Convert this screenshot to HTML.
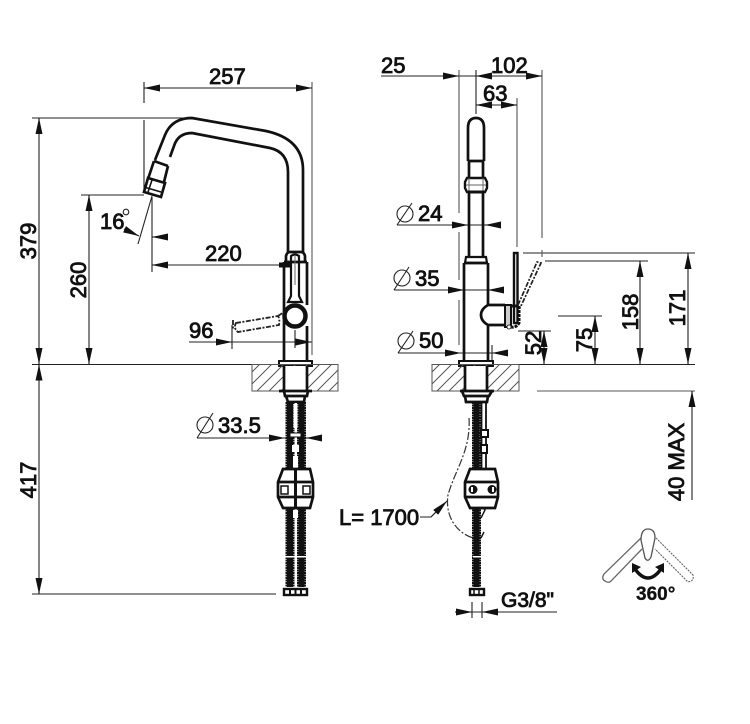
<!DOCTYPE html>
<html><head><meta charset="utf-8"><style>
html,body{margin:0;padding:0;background:#fff}
svg{display:block}
text{font-family:"Liberation Sans",sans-serif;font-size:22px;fill:#111;stroke:#111;stroke-width:.85}
.d{stroke:#222;stroke-width:1.100;fill:none}
.g{stroke:#555;stroke-width:1.100;fill:none}
.a{stroke:#222;stroke-width:1.100;fill:none;marker-end:url(#m)}
.t{stroke:#111;stroke-width:2.700;fill:none}
.s{stroke:#111;stroke-width:9;fill:none;stroke-dasharray:2 .5}
.i{stroke:#111;stroke-width:6;fill:none}
.c{stroke:#666;stroke-width:1;fill:none}
</style></head><body>
<svg width="750" height="724" viewBox="0 0 750 724" xmlns="http://www.w3.org/2000/svg">
<defs>
<marker id="m" markerUnits="userSpaceOnUse" markerWidth="16" markerHeight="7" refX="16" refY="3.5" orient="auto"><path d="M0 0L16 3.5L0 7Z" fill="#111"/></marker>
<pattern id="hat" width="12" height="12" patternUnits="userSpaceOnUse"><path d="M-3 15L15 -3M-3 3L3 -3M9 15L15 9" stroke="#555" stroke-width="1"/></pattern>
</defs>
<rect width="750" height="724" fill="#fff"/>

<!-- LEFT VIEW dimensions -->
<path class="d" d="M144 82V103M144 88H312M32 118H196M144 120V192M81 195H144M152 197V272M32 364.500H280M32 594H276"/>
<path class="g" d="M312 82V355"/>
<path class="a" d="M160 88H144"/><path class="a" d="M296 88H312"/>
<path class="d" d="M39 118V594M89 195V364"/>
<path class="a" d="M39 134V118"/><path class="a" d="M39 348V364"/><path class="a" d="M39 380V364.500"/><path class="a" d="M39 578V594"/>
<path class="a" d="M89 211V195"/><path class="a" d="M89 348V364"/>
<path class="d" d="M152 196L138 244"/>
<path class="a" d="M124 229L139 236"/><path class="a" d="M168 237H152"/>
<path class="d" d="M152 265H290"/><path class="a" d="M168 265H152"/><path stroke="#111" stroke-width="5" d="M279 265H291"/>
<path class="d" d="M189 342H311M232 325V349M295 330V348"/>
<path class="a" d="M216 342H232"/><path class="a" d="M297 342H311.500"/>
<path class="d" d="M197 438H322M197 438L213 413"/>
<path class="a" d="M268 438H285"/><path class="a" d="M322 438H306"/>
<circle class="d" cx="205" cy="425" r="8"/>

<!-- LEFT spout -->
<path class="t" d="M155 160L165 135Q172 118 192 118L266 131Q303 139 303 170V253"/>
<path class="t" d="M170 157L174 146Q178 133 192 133L270 148Q288 152 288 172V253"/>
<path class="t" d="M154 161L168 166M154 161L148 179M168 166L164 182M148 178L165 183L161 197L144 192Z"/>
<path stroke="#111" stroke-width="1.600" fill="none" d="M152 180L148 192M144 187L161 192"/>
<!-- LEFT body -->
<path class="t" d="M284 262V361M307 262V305M307 326V361"/>
<path class="t" d="M286 262V256Q287 252 290 252H301Q304 252 305 256V262H284M304 262H307"/>
<path stroke="#111" stroke-width="2.200" fill="none" d="M291 256Q295 253 299 256L299 296L302 302H288L291 296Z"/>
<path class="c" d="M295 255V285"/>
<circle cx="295" cy="316" r="10.500" fill="#fff" stroke="#111" stroke-width="4.500"/>
<path stroke="#222" stroke-width="1.800" stroke-dasharray="5 1.500 2 1.500" fill="none" d="M236 323L278 316Q280 319 279 325L238 332Q233 328 236 323ZM278 316L284 312M233 320V330"/>
<rect x="279" y="361" width="33" height="5" fill="#fff" stroke="#111" stroke-width="2"/>
<!-- LEFT counter -->
<path d="M252 364.500H338V391H252Z" fill="url(#hat)" stroke="#555"/>
<rect x="284" y="366" width="23" height="25" fill="#fff"/>
<path class="t" d="M284 366V391M307 366V391"/>
<path class="t" d="M279 391H312M284 391L285 396H307L308 391M286 396L288 402H304L305 396"/>
<path class="s" d="M290 402V587M301.500 402V587"/>
<path class="i" d="M290 402V587M301.500 402V587"/>
<rect x="294.500" y="403" width="2.500" height="182" fill="#fff"/>
<rect x="293.500" y="404" width="4" height="24" fill="#fff"/>
<rect x="290" y="433" width="11" height="4" fill="#fff" stroke="#111"/>
<rect x="292" y="445" width="7" height="7" fill="#fff"/>
<rect x="293" y="456" width="5" height="13" fill="#fff"/>
<rect x="293" y="510" width="5" height="8" fill="#fff"/>
<rect x="285" y="556" width="22" height="1.500" fill="#fff"/>
<path class="t" style="fill:#fff" d="M283 469H310L313 482V497L310 508H283L278 497V482Z"/>
<path class="t" d="M278 482H313M278 497H313"/>
<path stroke="#111" stroke-width="3" d="M295.500 469V508"/>
<rect x="281" y="486" width="7" height="8" fill="#fff" stroke="#111" stroke-width="1.500"/>
<rect x="303" y="486" width="7" height="8" fill="#fff" stroke="#111" stroke-width="1.500"/>
<rect x="284" y="589" width="23" height="6" fill="#fff" stroke="#111" stroke-width="2.400"/>
<path stroke="#111" stroke-width="2" d="M290 588V595M295.500 588V595M301 588V595"/>

<!-- RIGHT VIEW dimensions -->
<path class="d" d="M381 76H476M476 70V114M476 76H542M476 105H517"/>
<path class="g" d="M459 70V213M459 232V280M459 300V345M542 70V238M517 98V247"/>
<path class="a" d="M444 76H459"/><path class="a" d="M492 76H476"/><path class="a" d="M526 76H542"/>
<path class="a" d="M492 105H476"/><path class="a" d="M501 105H517"/>
<path class="d" d="M397 225H500M397 225L412 203M394 290H503M394 290L409 267M398 353H461M398 353L413 331M492 345V361M461 353H508"/>
<circle class="d" cx="405" cy="214" r="8"/><circle class="d" cx="402" cy="278" r="8"/><circle class="d" cx="406" cy="341" r="8"/>
<path class="a" d="M452 225H468"/><path class="a" d="M500 225H485"/>
<path class="a" d="M448 290H464"/><path class="a" d="M503 290H488"/>
<path class="a" d="M443 353H461"/><path class="a" d="M508 353H492"/>
<path class="d" d="M523 253H695M545 261H648M558 316H602M518 331H551M465 364.500H695"/>
<path class="g" d="M537 391H695M542 250V257"/>
<path class="d" d="M688 253V364M640 261V364M595 316V364M544 331V364M692 391V500"/>
<path class="a" d="M688 269V253"/><path class="a" d="M688 348V364"/>
<path class="a" d="M640 277V261"/><path class="a" d="M640 348V364"/>
<path class="a" d="M595 332V316"/><path class="a" d="M595 348V364"/>
<path class="a" d="M544 347V331"/><path class="a" d="M544 348V364"/>
<path class="a" d="M692 407V391"/>
<!-- RIGHT spout -->
<path class="t" d="M468 161V128Q468 118 476 118Q484 118 484 128V161M468 161H484M469 161V178M483 161V178"/>
<path stroke="#111" stroke-width="2.400" fill="#fff" d="M467 178H485L487 182V188L485 192H467L465 188V182Z"/>
<path class="c" d="M469 178V192M483 178V192M466 185H486"/>
<path stroke="#111" stroke-width="3" d="M468 192H484"/>
<path class="t" d="M469 192V257M483 192V257"/>
<path stroke="#111" stroke-width="2.200" fill="#fff" d="M466 257H486L487 263H465Z"/>
<path class="t" d="M464 263V361M488 263V305M488 325V361M464 263H488"/>
<path class="t" d="M488 305H505M488 325H505M488 305Q481 309 481 315Q481 321 488 325"/>
<rect x="514" y="253" width="3.500" height="70" fill="#fff" stroke="#111" stroke-width="2.400"/>
<path stroke="#111" stroke-width="2" fill="#ccc" d="M505 305H511V327H505Z"/>
<path stroke="#111" stroke-width="3" fill="none" stroke-dasharray="3 1" d="M511 306H519V323Q516 328 511 327"/>
<circle cx="509" cy="327" r="2" fill="#fff" stroke="#333"/>
<path stroke="#222" stroke-width="1.700" stroke-dasharray="5 1.500 2 1.500" fill="none" d="M518 305L537 262L541 263L520 308"/>
<rect x="459" y="361" width="34" height="5" fill="#fff" stroke="#111" stroke-width="2"/>
<!-- RIGHT counter -->
<path d="M432 364.500H519V391H432Z" fill="url(#hat)" stroke="#555"/>
<rect x="465" y="366" width="22" height="25" fill="#fff"/>
<path class="t" d="M465 366V391M487 366V391"/>
<path class="t" d="M460 391H494M462 391L464 396H489L492 391M465 396L466 402H487L488 396"/>
<path class="s" d="M476.500 402V587"/>
<path class="i" d="M476.500 402V587"/>
<path stroke="#111" stroke-width="1.800" fill="none" d="M486 402V469M481.500 402V469"/>
<path stroke="#111" stroke-width="2" fill="#fff" d="M481 430H488V437H481ZM481 445H487V453H481Z"/>
<path stroke="#111" stroke-width="1.400" fill="none" d="M481 505L485 510L481 518M484 532L481 538"/>
<rect x="473" y="556" width="9" height="1.500" fill="#fff"/>
<path class="t" style="fill:#fff" d="M470 469H495L498 482V497L495 508H470L465 497V482Z"/>
<path class="t" d="M465 482H498M465 497H498"/>
<circle cx="473" cy="489.500" r="4.500" fill="#111"/><circle cx="492" cy="489.500" r="4.500" fill="#111"/>
<rect x="471" y="487" width="2" height="5" fill="#fff"/><rect x="492" y="487" width="2" height="5" fill="#fff"/>
<path stroke="#333" stroke-width="1.200" fill="none" stroke-dasharray="8 2 2 2" d="M469 418C471 450 455 470 448 495C445 515 455 532 473 538"/>
<path class="a" d="M431 517L447 501"/>
<path class="d" d="M420 517H431L436 512"/>
<rect x="470" y="589" width="14" height="6" fill="#fff" stroke="#111" stroke-width="2.400"/>
<path stroke="#111" stroke-width="1.500" d="M474 588V595M479 588V595"/>
<path class="d" d="M472 602V618M482 602V618M455 612H557"/>
<path class="a" d="M456 612H472"/><path class="a" d="M498 612H482"/>

<!-- rotation icon -->
<path stroke="#666" stroke-width="1.300" fill="none" d="M641 538L604 574Q601 579 605 581Q609 584 612 580L642 549"/>
<path stroke="#666" stroke-width="1.100" stroke-dasharray="2 1" fill="none" d="M656 538L693 575Q694 580 691 581Q688 583 685 579L655 549"/>
<path stroke="#555" stroke-width="1.300" fill="#fff" d="M641 540Q641 529 648 529Q655 529 655 538L651 557Q648 563 645 558Z"/>
<path stroke="#111" stroke-width="3.500" fill="none" d="M635 569Q648 587 661 569"/>
<path fill="#111" d="M632 563L641 567L632 573ZM664 563L664 573L655 567Z"/>

<!-- labels -->
<text x="209" y="84">257</text>
<text x="100" y="229">16</text>
<circle class="d" cx="126" cy="212" r="2.800"/>
<text x="205" y="261">220</text>
<text x="189" y="338">96</text>
<text x="218" y="433">33.5</text>
<text x="381" y="73">25</text>
<text x="491" y="73">102</text>
<text x="483" y="101">63</text>
<text x="418" y="221">24</text>
<text x="415" y="286">35</text>
<text x="419" y="348">50</text>
<text x="339" y="525">L= 1700</text>
<text x="501" y="607" style="font-size:21px">G3/8"</text>
<text x="636" y="600" style="font-size:19px;font-weight:bold;stroke-width:.3">360°</text>
<text transform="translate(36 241) rotate(-90)" text-anchor="middle">379</text>
<text transform="translate(36 480) rotate(-90)" text-anchor="middle">417</text>
<text transform="translate(86 280) rotate(-90)" text-anchor="middle">260</text>
<text transform="translate(541 343) rotate(-90)" text-anchor="middle">52</text>
<text transform="translate(592 340) rotate(-90)" text-anchor="middle">75</text>
<text transform="translate(638 312) rotate(-90)" text-anchor="middle">158</text>
<text transform="translate(685 308) rotate(-90)" text-anchor="middle">171</text>
<text transform="translate(684 462) rotate(-90)" text-anchor="middle">40 MAX</text>
</svg>
</body></html>
